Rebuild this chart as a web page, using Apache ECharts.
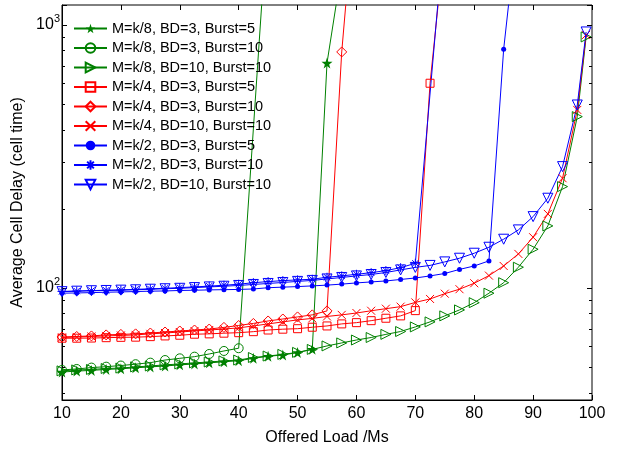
<!DOCTYPE html>
<html>
<head>
<meta charset="utf-8">
<script src="https://cdn.jsdelivr.net/npm/echarts@6/dist/echarts.min.js"></script>
<style>
html,body{margin:0;padding:0;background:#fff;}
#c{width:634px;height:451px;}
</style>
</head>
<body>
<div id="c"></div>
<script>
// Offered load (x) values
const loads = [10,12.5,15,17.5,20,22.5,25,27.5,30,32.5,35,37.5,40,42.5,45,47.5,50,52.5,55,57.5,60,62.5,65,67.5,70,72.5,75,77.5,80,82.5,85,87.5,90,92.5,95,97.5,99];
const loadsCircle = [10,12.5,15,17.5,20,22.5,25,27.5,30,32.5,35,37.5,40,45];
const loadsAsterisk = [10,12.5,15,17.5,20,22.5,25,27.5,30,32.5,35,37.5,40,42.5,45,47.5,50,52.5,55,57.5,60,62.5,65,67.5,70,75];

// Series values (average cell delay, cell time)
const k8_bd3_b5 = [47.9,48.3,48.6,49.0,49.3,49.7,50.1,50.5,51.0,51.4,51.9,52.4,52.9,54.0,55.0,55.6,56.8,58.5,716,1630];
const k8_bd3_b10 = [48.8,49.2,49.8,50.2,50.7,51.3,52.0,53.2,54.0,54.8,56.1,57.6,59.0,2760];
const k8_bd10_b10 = [48.4,48.8,49.0,49.4,49.6,50.1,50.5,51.0,51.4,51.9,52.3,52.8,53.2,54.4,55.1,55.9,56.9,58.4,60.2,61.8,63.4,64.8,66.6,68.3,71.1,74.3,78.3,82.5,87.9,95.5,104.7,119.9,140.3,172.1,242.8,448,900];
const k4_bd3_b5 = [64.4,64.4,64.5,64.7,64.9,65.0,65.3,65.7,66.1,66.7,66.9,67.3,67.6,68.2,69.2,69.7,70.0,70.9,71.7,73.0,73.8,75.1,76.7,78.3,82.0,600,2100];
const k4_bd3_b10 = [65.1,65.4,65.7,66.3,66.6,66.9,67.4,68.0,68.6,69.2,69.8,70.8,72.0,73.3,74.9,76.2,77.6,79.0,81.8,789,3540];
const k4_bd10_b10 = [64.8,65.1,65.4,65.7,66.0,66.3,66.9,67.4,68.0,68.6,69.2,69.8,70.5,71.7,73.0,74.3,75.6,76.6,77.9,79.0,80.3,81.9,83.4,84.9,88.1,90.8,95.1,98.9,104.2,111.4,121.2,134.7,155.9,191.2,261.3,475,916];
const k2_bd3_b5 = [95.5,95.7,96.0,96.3,96.6,96.9,97.2,97.4,97.8,98.0,98.3,98.5,98.7,99.1,100.2,100.7,101.2,101.8,102.5,103.4,104.5,105.4,106.3,107.7,109.1,111.1,113.5,117.6,121.2,126.7,808,2600];
const k2_bd3_b10 = [97.0,97.3,97.7,98.0,98.3,98.8,99.2,99.7,100.3,100.9,101.6,102.4,103.3,104.7,105.7,106.6,107.3,107.9,109.8,111.1,112.7,114.3,116.4,119.4,124.1,2420];
const k2_bd10_b10 = [96.8,97.2,97.6,97.8,98.1,98.4,98.9,99.3,99.7,100.3,100.9,101.5,102.2,103.1,104.0,104.9,105.9,106.8,108.2,109.6,111.1,112.5,114.5,117.1,119.7,121.8,125.6,129.7,135.5,142.8,153.2,166.2,186.7,219.3,289.2,496,940];

// Axis ticks
const xTicks = [10,20,30,40,50,60,70,80,90,100];
const yMinorTicks = [40,50,60,70,80,90,200,300,400,500,600,700,800,900];

const names = [
  'M=k/8, BD=3, Burst=5','M=k/8, BD=3, Burst=10','M=k/8, BD=10, Burst=10',
  'M=k/4, BD=3, Burst=5','M=k/4, BD=3, Burst=10','M=k/4, BD=10, Burst=10',
  'M=k/2, BD=3, Burst=5','M=k/2, BD=3, Burst=10','M=k/2, BD=10, Burst=10'
];

const G = '#008000', R = '#ff0000', B = '#0000ff';
const FONT = "'Liberation Sans', Arial, sans-serif";

const STAR = 'path://M50,0L61.8,35.3L98.1,35.3L68.8,57.1L79.4,90.5L50,69L20.6,90.5L31.2,57.1L1.9,35.3L38.2,35.3Z';
const TRI_R = 'path://M0,0L100,50L0,100Z';
const TRI_D = 'path://M0,0L100,0L50,100Z';
const CROSS = 'path://M0,0L100,100M100,0L0,100';
const AST = 'path://M50,0L50,100M0,50L100,50M15,15L85,85M85,15L15,85';

function pairs(xs, ys){ return ys.map((v,i)=>[xs[i], v]); }

function mk(name, xs, ys, color, symbol, size, filled){
  return {
    name: name, type: 'line', data: pairs(xs, ys),
    symbol: symbol, symbolSize: size, showSymbol: true, showAllSymbol: true,
    lineStyle: {color: color, width: 1},
    itemStyle: filled ? {color: color, borderColor: color, borderWidth: 0}
                      : {color: 'transparent', borderColor: color, borderWidth: 1},
    emphasis: {disabled: true}, z: 3
  };
}

const series = [
  mk(names[0], loads, k8_bd3_b5, G, STAR, 11, true),
  mk(names[1], loadsCircle, k8_bd3_b10, G, 'circle', 9, false),
  mk(names[2], loads, k8_bd10_b10, G, TRI_R, 10, false),
  mk(names[3], loads, k4_bd3_b5, R, 'rect', 8, false),
  mk(names[4], loads, k4_bd3_b10, R, 'diamond', 10, false),
  mk(names[5], loads, k4_bd10_b10, R, CROSS, 8, false),
  mk(names[6], loads, k2_bd3_b5, B, 'circle', 5, true),
  mk(names[7], loadsAsterisk, k2_bd3_b10, B, AST, 9, false),
  mk(names[8], loads, k2_bd10_b10, B, TRI_D, 10, false),
  {
    type: 'custom', silent: true, z: 5,
    data: yMinorTicks.map(v => [10, v]),
    renderItem: function(params, api){
      const v = api.value(1);
      const p1 = api.coord([10, v]);
      const p2 = api.coord([100, v]);
      const y = Math.round(p1[1]) + 0.5;
      return {type: 'group', children: [
        {type: 'line', shape: {x1: p1[0], y1: y, x2: p1[0] + 3, y2: y}, style: {stroke: '#000', lineWidth: 1}},
        {type: 'line', shape: {x1: p2[0] - 3, y1: y, x2: p2[0], y2: y}, style: {stroke: '#000', lineWidth: 1}}
      ]};
    }
  }
];

function yLabel(v){
  const l = Math.log10(v);
  if (Math.abs(l - Math.round(l)) < 1e-6) return '{b|10}{s|' + Math.round(l) + '}';
  return '';
}

const chart = echarts.init(document.getElementById('c'), null, {renderer: 'canvas'});
chart.setOption({
  animation: false,
  backgroundColor: '#fff',
  textStyle: {fontFamily: FONT, color: '#000'},
  grid: {left: 62, right: 42, top: 5, bottom: 51, show: true, borderColor: '#000', borderWidth: 1, backgroundColor: '#fff', containLabel: false},
  legend: {
    data: names, orient: 'vertical', left: 68, top: 16,
    itemWidth: 33, itemHeight: 12, itemGap: 4.5,
    textStyle: {fontFamily: FONT, fontSize: 14.5, color: '#000', lineHeight: 14},
    selectedMode: false
  },
  xAxis: [
    {type: 'value', min: 10, max: 100, interval: 10, position: 'bottom',
     name: 'Offered Load /Ms', nameLocation: 'middle', nameGap: 30,
     nameTextStyle: {fontFamily: FONT, fontSize: 16, color: '#000'},
     axisLine: {show: true, lineStyle: {color: '#000', width: 1}},
     axisTick: {show: true, inside: true, length: 5, lineStyle: {color: '#000'}},
     axisLabel: {fontFamily: FONT, fontSize: 16, color: '#000', margin: 6},
     splitLine: {show: false}},
    {type: 'value', min: 10, max: 100, interval: 10, position: 'top',
     axisLine: {show: false},
     axisTick: {show: true, inside: true, length: 5, lineStyle: {color: '#000'}},
     axisLabel: {show: false}, splitLine: {show: false}}
  ],
  yAxis: [
    {type: 'log', logBase: 10, min: 37.5, max: 1190, position: 'left',
     name: 'Average Cell Delay (cell time)', nameLocation: 'middle', nameGap: 33,
     nameTextStyle: {fontFamily: FONT, fontSize: 16, color: '#000'},
     axisLine: {show: true, lineStyle: {color: '#000', width: 1}},
     axisTick: {show: true, inside: true, length: 5, lineStyle: {color: '#000'}},
     axisLabel: {formatter: yLabel, margin: 2,
       rich: {b: {fontFamily: FONT, fontSize: 16, color: '#000'},
              s: {fontFamily: FONT, fontSize: 11, color: '#000', padding: [0,0,12,0]}}},
     splitLine: {show: false}},
    {type: 'log', logBase: 10, min: 37.5, max: 1190, position: 'right',
     axisLine: {show: false},
     axisTick: {show: true, inside: true, length: 5, lineStyle: {color: '#000'}},
     axisLabel: {show: false}, splitLine: {show: false}}
  ],
  series: series
});
</script>
</body>
</html>
